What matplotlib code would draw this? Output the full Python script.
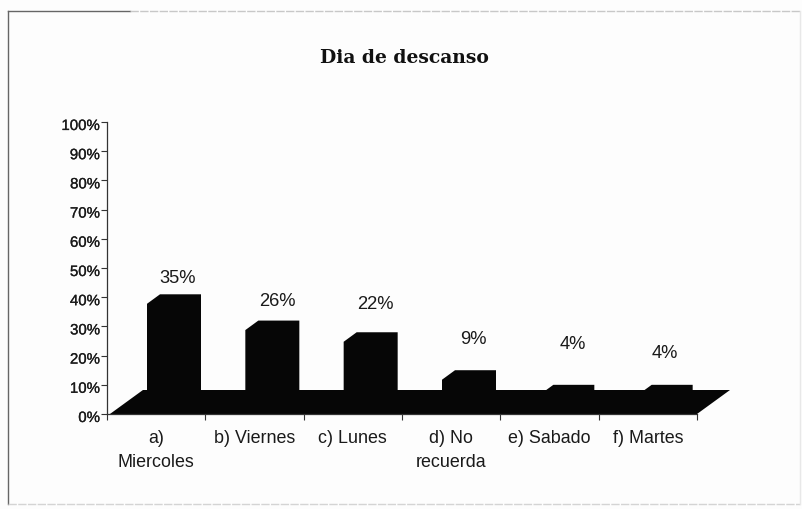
import matplotlib
matplotlib.use("Agg")
import matplotlib.pyplot as plt
import matplotlib.patheffects as pe
from matplotlib.transforms import ScaledTranslation

categories = ["a)\nMiercoles", "b) Viernes", "c) Lunes", "d) No\nrecuerda", "e) Sabado", "f) Martes"]
values = [35, 26, 22, 9, 4, 4]
value_labels = ["35%", "26%", "22%", "9%", "4%", "4%"]
y_ticks = [0, 10, 20, 30, 40, 50, 60, 70, 80, 90, 100]

W, H = 803, 510
fig = plt.figure(figsize=(W / 100, H / 100), dpi=100, facecolor="#fdfdfd")

# plot box in pixels: x 107..697, y 123..415
ax = fig.add_axes([107 / W, 1 - 415 / H, 590 / W, 292 / H])
ax.set_xlim(0, 6)
ax.set_ylim(0, 100)
ax.patch.set_alpha(0)

# fake 3d offsets in data units
px_x = 6 / 590
px_y = 100 / 292
floor_dx, floor_dy = 33 * px_x, 24 * px_y
front_dy = 8 * px_y
top_dx, top_dy = 13 * px_x, 9.5 * px_y
bar_left, bar_right = 40 * px_x, 94 * px_x

ink = "#060606"
smudge = [pe.withStroke(linewidth=0.2, foreground="#222222")]  # scan makes the small text heavier

ax.fill([0.03, 6, 6 + floor_dx, floor_dx + 0.03], [0, 0, floor_dy, floor_dy],
        color=ink, lw=0, clip_on=False, zorder=2)

for i, v in enumerate(values):
    x0 = i + bar_left
    x1 = i + bar_right
    top = v + front_dy
    ax.fill([x0, x0, x0 + top_dx, x1, x1],
            [front_dy, top, top + top_dy, top + top_dy, front_dy],
            color=ink, lw=0, clip_on=False, zorder=3)

# data labels sit at hand placed spots in the original
label_x = [0.72, 1.73, 2.73, 3.73, 4.74, 5.67]
label_y = [46.9, 38.7, 37.9, 25.7, 24.3, 20.9]
for x, y, s in zip(label_x, label_y, value_labels):
    ax.text(x, y, s, ha="center", va="center", fontsize=13.2, color="#1a1a1a",
            family="Liberation Sans", zorder=4)

for side in ("top", "right"):
    ax.spines[side].set_visible(False)
for side in ("left", "bottom"):
    ax.spines[side].set_color("#333333")
    ax.spines[side].set_linewidth(0.9)

ax.set_yticks(y_ticks)
ax.set_yticklabels([f"{t}%" for t in y_ticks], fontsize=10.8, color="#1a1a1a",
                   family="Liberation Sans", path_effects=smudge)
ax.tick_params(axis="y", length=4, width=0.8, color="#333333", pad=1)
nudge = ScaledTranslation(0, -2.5 / 100, fig.dpi_scale_trans)
for lab in ax.get_yticklabels():
    lab.set_transform(lab.get_transform() + nudge)

ax.set_xticks(range(7))
ax.set_xticklabels([""] * 7)
ax.tick_params(axis="x", length=4, width=0.8, color="#333333")
for i, c in enumerate(categories):
    ax.annotate(c, (i + 0.5, 0), xytext=(0, -10.5), textcoords="offset points",
                ha="center", va="top", fontsize=12.9, color="#1a1a1a",
                family="Liberation Sans", linespacing=1.6, annotation_clip=False)

fig.text(404 / W, 1 - 58 / H, "Dia de descanso", ha="center", va="center",
         fontsize=13.5, fontweight="bold", family="DejaVu Serif", color="#111111")

# scanned page frame, dark at top left and fading out
fig.add_artist(plt.Line2D([8 / W, 8 / W], [1 - 505 / H, 1 - 12 / H], color="#666666", lw=1))
fig.add_artist(plt.Line2D([8 / W, 130 / W], [1 - 12 / H, 1 - 12 / H], color="#666666", lw=1))
fig.add_artist(plt.Line2D([130 / W, 800 / W], [1 - 12 / H, 1 - 12 / H], color="#c8c8c8", lw=1, ls=(0, (6, 1))))
fig.add_artist(plt.Line2D([8 / W, 800 / W], [1 - 505 / H, 1 - 505 / H], color="#d4d4d4", lw=1, ls=(0, (6, 1))))
fig.add_artist(plt.Line2D([800 / W, 800 / W], [1 - 505 / H, 1 - 12 / H], color="#e8e8e8", lw=1))

fig.savefig("out.png", dpi=100, facecolor=fig.get_facecolor())
